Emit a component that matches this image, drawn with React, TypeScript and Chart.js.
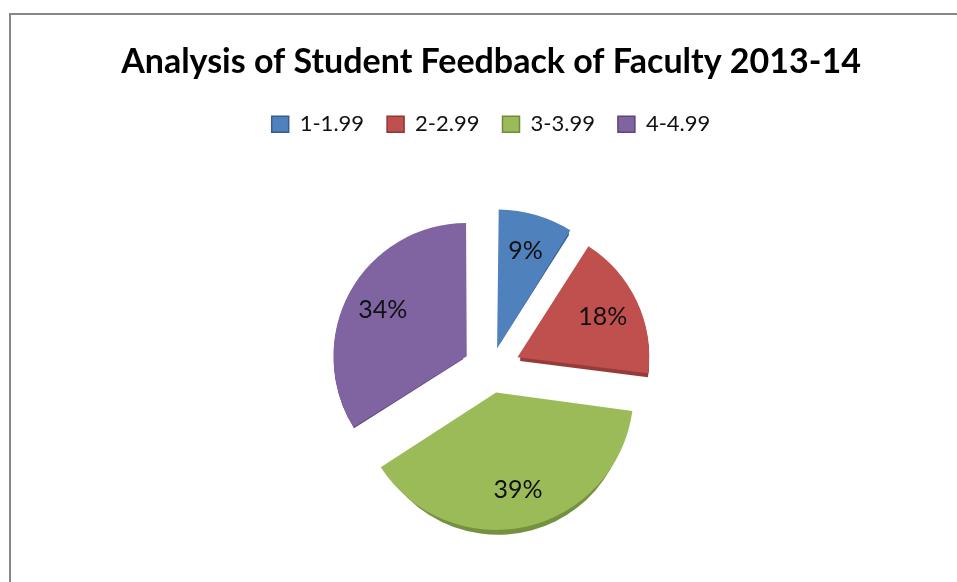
import React, { useEffect, useRef } from "react";
import { Chart, registerables } from "chart.js";

Chart.register(...registerables);

const categories = ["1-1.99", "2-2.99", "3-3.99", "4-4.99"];
const percentages = [9, 18, 39, 34];
const sliceColors = ["#4F81BD", "#C0504D", "#9BBB59", "#8064A2"];
const sideColors = ["#3B6496", "#953C3A", "#75903F", "#604B7D"];
const legendBorders = ["#385D8A", "#8C3836", "#71893F", "#5C4776"];
const titleText = "Analysis of Student Feedback of Faculty 2013-14";

const EXPLODE = 32;
const DEPTH = 5;
const RADIUS = 129;
const LABEL_POS = 0.71;
const FONT = "Lato, 'Open Sans', sans-serif";

function displacement(el: any) {
  const offset = (el.options.offset || 0) / 4;
  const circ = el.endAngle - el.startAngle;
  const fix = 1 - Math.sin(Math.min(Math.PI, circ || 0));
  return offset * (1 + fix);
}

const extrudePlugin = {
  id: "extrude",
  beforeDatasetsDraw(chart: any) {
    const ctx = chart.ctx;
    const meta = chart.getDatasetMeta(0);
    meta.data.forEach((arc: any, i: number) => {
      const { x, y, startAngle, endAngle, outerRadius } = arc;
      const mid = (startAngle + endAngle) / 2;
      const d = displacement(arc);
      const cx = x + Math.cos(mid) * d;
      const cy = y + Math.sin(mid) * d;
      ctx.save();
      ctx.fillStyle = sideColors[i];
      for (let k = 1; k <= DEPTH; k++) {
        ctx.beginPath();
        ctx.moveTo(cx, cy + k);
        ctx.arc(cx, cy + k, outerRadius, startAngle, endAngle);
        ctx.closePath();
        ctx.fill();
      }
      ctx.restore();
    });
  },
};

const labelPlugin = {
  id: "sliceLabels",
  afterDatasetsDraw(chart: any) {
    const ctx = chart.ctx;
    const meta = chart.getDatasetMeta(0);
    const data = chart.data.datasets[0].data as number[];
    meta.data.forEach((arc: any, i: number) => {
      const { x, y, startAngle, endAngle, outerRadius } = arc;
      const mid = (startAngle + endAngle) / 2;
      const d = displacement(arc);
      const cx = x + Math.cos(mid) * d;
      const cy = y + Math.sin(mid) * d;
      const lx = cx + Math.cos(mid) * outerRadius * LABEL_POS;
      const ly = cy + Math.sin(mid) * outerRadius * LABEL_POS;
      ctx.save();
      ctx.font = `25px ${FONT}`;
      ctx.fillStyle = "#111";
      ctx.textAlign = "center";
      ctx.textBaseline = "middle";
      ctx.fillText(`${data[i]}%`, lx, ly);
      ctx.restore();
    });
  },
};

export default function App() {
  const canvasRef = useRef<HTMLCanvasElement>(null);

  useEffect(() => {
    if (!canvasRef.current) return;
    const total = percentages.reduce((a, b) => a + b, 0);
    const chart = new Chart(canvasRef.current, {
      type: "pie",
      data: {
        labels: categories,
        datasets: [
          {
            data: percentages,
            backgroundColor: sliceColors,
            borderWidth: 0,
            radius: RADIUS,
            offset: (c: any) => {
              const v = c.dataset.data[c.dataIndex] as number;
              const circ = (v / total) * Math.PI * 2;
              const fix = 1 - Math.sin(Math.min(Math.PI, circ));
              return (4 * EXPLODE) / (1 + fix);
            },
          } as any,
        ],
      },
      options: {
        responsive: false,
        animation: false,
        devicePixelRatio: 1,
        layout: { padding: { left: 25, right: 0, top: 0, bottom: 26 } },
        plugins: {
          tooltip: { enabled: false },
          title: {
            display: true,
            text: titleText,
            color: "#000",
            font: { family: FONT, size: 34, weight: "bold" },
            padding: { top: 42, bottom: 7.4 },
          },
          legend: {
            display: true,
            position: "top",
            labels: {
              color: "#111",
              font: { family: FONT, size: 22 },
              boxWidth: 17,
              boxHeight: 16,
              padding: 23,
              generateLabels: () =>
                categories.map((c, i) => ({
                  text: c,
                  fillStyle: sliceColors[i],
                  strokeStyle: legendBorders[i],
                  lineWidth: 1.5,
                  hidden: false,
                  index: i,
                  fontColor: "#111",
                })),
            },
          },
        },
      },
      plugins: [extrudePlugin, labelPlugin],
    });
    return () => chart.destroy();
  }, []);

  return (
    <div
      style={{
        position: "fixed",
        left: 0,
        top: 0,
        width: 957,
        height: 582,
        overflow: "hidden",
        background: "#fff",
      }}
    >
      <div
        style={{
          position: "absolute",
          left: 9,
          top: 13,
          width: 1000,
          height: 1000,
          borderLeft: "2px solid #878787",
          borderTop: "2px solid #878787",
        }}
      />
      <canvas
        ref={canvasRef}
        width={957}
        height={620}
        style={{ position: "absolute", left: 0, top: 0, display: "block" }}
      />
    </div>
  );
}
